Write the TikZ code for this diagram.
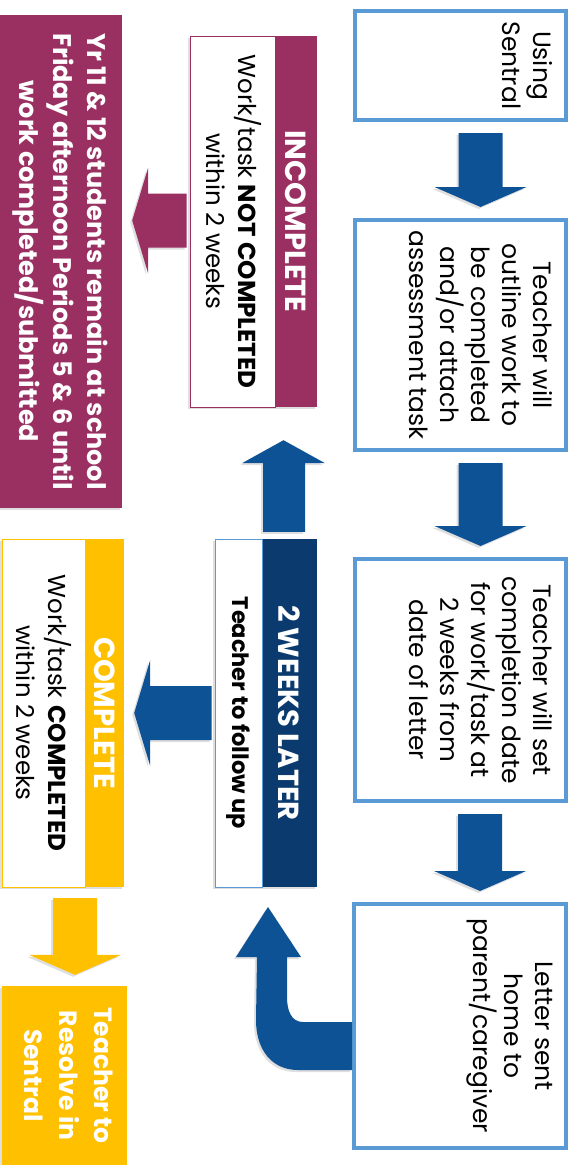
\documentclass[tikz,border=0pt]{standalone}
\usepackage{fontspec}
\setmainfont{Poppins}
\usetikzlibrary{calc,shadows}

\definecolor{boxblue}{HTML}{5B9BD5}
\definecolor{arrblue}{HTML}{0E5296}
\definecolor{wknavy}{HTML}{0B3B6E}
\definecolor{incplum}{HTML}{9A3062}
\definecolor{cmpgold}{HTML}{FFC000}

% text turned a quarter clockwise, lines centred, set from the top
\newcommand{\vtext}[3]{\rotatebox{-90}{\parbox[c][#2pt][t]{#1pt}{\centering #3}}}

% block arrow pointing down from #1 to #2, moved sideways by #3
\newcommand{\downarr}[4]{%
  \fill[#4] ($(#2.north |- #1.south)+(#3-22,11)$) -- ($(#2.north |- #1.south)+(#3+22,11)$)
    -- ($(#2.north)+(#3+22,-31)$) -- ($(#2.north)+(#3+46,-31)$)
    -- ($(#2.north)+(#3,-11)$) -- ($(#2.north)+(#3-46,-31)$)
    -- ($(#2.north)+(#3-22,-31)$) -- cycle;}

% block arrow pointing left from #1 to #2, moved by #3
\newcommand{\leftarr}[4]{%
  \fill[#4] ($(#1.west)+(-3,#3-27)$) -- ($(#2.east |- #1.west)+(26,#3-27)$)
    -- ($(#2.east |- #1.west)+(26,#3-53)$) -- ($(#2.east |- #1.west)+(10,#3)$)
    -- ($(#2.east |- #1.west)+(26,#3+53)$) -- ($(#2.east |- #1.west)+(26,#3+27)$)
    -- ($(#1.west)+(-3,#3+27)$) -- cycle;}

\begin{document}
\begin{tikzpicture}[
  x=1pt,y=-1pt,
  shade/.style={drop shadow={shadow xshift=-2pt,shadow yshift=-2pt,opacity=.25}},
  sbox/.style={draw=boxblue,line width=4pt,fill=white,inner sep=0pt,shade,
    font=\fontsize{25}{31}\selectfont},
  hdr/.style={inner sep=0pt,shade,text=white,font=\fontsize{29}{32}\selectfont\bfseries},
  wbox/.style={fill=white,line width=.8pt,inner sep=0pt,shade,
    font=\fontsize{24.5}{32}\selectfont},
  barr/.style={fill=arrblue,shade}
]
\useasboundingbox (0,0) rectangle (573,1165);

% main column
\node[sbox,minimum width=211,minimum height=109] (s1) at (460.5,65.5)
  {\vtext{103}{185}{Using\\Sentral}};
\node[sbox,minimum width=211,minimum height=230] (s2) at (460.5,335)
  {\vtext{224}{185}{Teacher will\\outline work to\\be completed\\and/or attach\\assessment task}};
\node[sbox,minimum width=211,minimum height=242] (s3) at (460.5,680)
  {\vtext{236}{185}{Teacher will set\\completion date\\for work/task at\\2 weeks from\\date of letter}};
\node[sbox,minimum width=212,minimum height=244] (s4) at (460,1026)
  {\vtext{238}{185}{Letter sent\\home to\\parent/caregiver}};

\downarr{s1}{s2}{20}{barr}
\downarr{s2}{s3}{20}{barr}
\downarr{s3}{s4}{20}{barr}

% follow up
\node[hdr,fill=wknavy,minimum width=55,minimum height=348] (wk) at (289.5,713)
  {\rotatebox{-90}{2 WEEKS LATER}};
\node[wbox,draw=boxblue,minimum width=47,minimum height=348,
  font=\fontsize{22.5}{26}\selectfont\bfseries] (wkb) at (238.5,713)
  {\rotatebox{-90}{Teacher to follow up}};

\begin{scope}[shift={(s4.west)}]
  \fill[barr] (0,-4) -- (-49,-4) .. controls (-61,-4) and (-65,-16) .. (-65,-29)
    -- (-65,-69) -- (-51,-69) -- (-84,-119) -- (-116,-69) -- (-95,-69)
    -- (-96,-6) .. controls (-96,24) and (-80,44) .. (-54,44) -- (0,44) -- cycle;
\end{scope}

% not completed
\node[hdr,fill=incplum,minimum width=42,minimum height=371] (inc) at (296,221.5)
  {\rotatebox{-90}{INCOMPLETE}};
\node[wbox,draw=incplum,minimum width=85,minimum height=371] (incb) at (232.5,221.5)
  {\vtext{365}{59}{Work/task \textbf{NOT COMPLETED}\\within 2 weeks}};
\node[hdr,fill=incplum,minimum width=122,minimum height=493,
  font=\fontsize{25.5}{34}\selectfont\bfseries] (yr) at (61,261.5)
  {\vtext{487}{94}{Yr 11 \& 12 students remain at school\\Friday afternoon Periods 5 \& 6 until\\work completed/submitted}};

\fill[barr] ($(wk.north)+(-26.5,-7)$) -- ($(wk.north)+(15.5,-7)$) -- ($(inc.south)+(9,56)$)
  -- ($(inc.south)+(29,56)$) -- ($(inc.south)+(-12.5,33)$) -- ($(inc.south)+(-54,56)$)
  -- ($(inc.south)+(-33,56)$) -- cycle;
\leftarr{incb}{yr}{-1}{fill=incplum,shade}

% completed
\node[hdr,fill=cmpgold,minimum width=39,minimum height=348] (cmp) at (104.5,713)
  {\rotatebox{-90}{COMPLETE}};
\node[wbox,draw=cmpgold,minimum width=83,minimum height=348] (cmpb) at (43.5,713)
  {\vtext{342}{57}{Work/task \textbf{COMPLETED}\\within 2 weeks}};
\node[hdr,fill=cmpgold,minimum width=125,minimum height=179,
  font=\fontsize{25}{35}\selectfont\bfseries] (res) at (64.5,1075.5)
  {\vtext{173}{97}{Teacher to\\Resolve in\\Sentral}};

\leftarr{wkb}{cmp}{0}{barr}
\downarr{cmp}{res}{10.5}{fill=cmpgold,shade}
\end{tikzpicture}
\end{document}
